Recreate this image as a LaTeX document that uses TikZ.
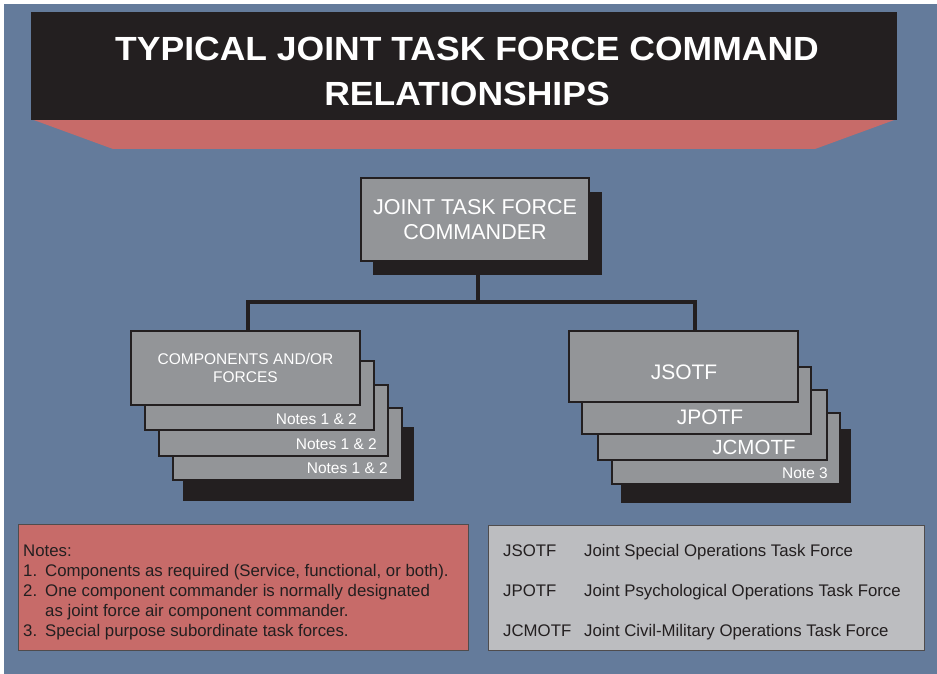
\documentclass[tikz,border=0pt]{standalone}
\usepackage{fontspec}
\setmainfont{Liberation Sans}
\newfontfamily\titlefont{Liberation Sans}[FakeStretch=1.06]

\definecolor{bgblue}{HTML}{647B9B}
\definecolor{jtfpink}{HTML}{C76B69}
\definecolor{boxgray}{HTML}{939598}
\definecolor{keygray}{HTML}{BCBDC0}
\definecolor{inkblack}{HTML}{231F20}

\tikzset{
  unitbox/.style={draw=inkblack, line width=2pt, fill=boxgray, text=white,
    inner sep=0pt, align=center},
  shadowbox/.style={fill=inkblack},
  link/.style={draw=inkblack, line width=4pt},
  stacktag/.style={text=white, inner sep=0pt, anchor=east},
  keytext/.style={text=inkblack, inner sep=0pt, anchor=base west,
    font=\fontsize{16.8}{20}\selectfont},
}

\begin{document}
\begin{tikzpicture}[x=1pt,y=-1pt]

\useasboundingbox (0,0) rectangle (937,674);
\fill[white] (0,0) rectangle (937,674);
\fill[bgblue] (4,4) rectangle (937,674);

% title banner
\fill[jtfpink] (31,119) -- (897,119) -- (815,149) -- (113,149) -- cycle;
\fill[inkblack] (31,12) rectangle (897,120);
\node[text=white, font=\titlefont\bfseries\fontsize{33.5}{45}\selectfont,
  align=center, inner sep=0pt] (title) at (467,71)
  {TYPICAL JOINT TASK FORCE COMMAND\\RELATIONSHIPS};

% commander
\fill[shadowbox] (373,192) rectangle (602,275);
\node[unitbox, minimum width=228, minimum height=83,
  font=\fontsize{21.5}{25}\selectfont] (jtfc) at (475,219.5)
  {JOINT TASK FORCE\\COMMANDER};

\coordinate (bus) at (478,302);
\coordinate (busl) at (248,302);
\coordinate (busr) at (695,302);
\draw[link] (478,275) -- (bus);
\draw[link] ([xshift=-2pt]busl) -- ([xshift=2pt]busr);

% components stack
\fill[shadowbox] (183,427) rectangle (414,501);
\node[unitbox, minimum width=229, minimum height=72] (compc) at (287.5,444) {};
\node[unitbox, minimum width=229, minimum height=71] (compb) at (273.5,420.5) {};
\node[unitbox, minimum width=229, minimum height=69] (compa) at (259.5,395.5) {};
\node[unitbox, minimum width=229, minimum height=74,
  font=\fontsize{15.5}{18.5}\selectfont] (comp) at (245.5,368)
  {COMPONENTS AND/OR\\FORCES};
\node[stacktag, font=\fontsize{15.5}{18}\selectfont] (companote) at (357,419) {Notes 1 \& 2};
\node[stacktag, font=\fontsize{15.5}{18}\selectfont] (compbnote) at (377,444) {Notes 1 \& 2};
\node[stacktag, font=\fontsize{15.5}{18}\selectfont] (compcnote) at (388,468) {Notes 1 \& 2};
\draw[link] (busl) -- (comp.north -| busl);

% task force stack
\fill[shadowbox] (621,429) rectangle (851,503);
\node[unitbox, minimum width=228, minimum height=71] (tfc) at (726,448.5) {};
\node[unitbox, minimum width=229, minimum height=70] (jcmotf) at (712.5,425) {};
\node[unitbox, minimum width=229, minimum height=67] (jpotf) at (696.5,400.5) {};
\node[unitbox, minimum width=229, minimum height=71,
  font=\fontsize{21}{25}\selectfont] (jsotf) at (683.5,366.5) {};
\node[text=white, inner sep=0pt, font=\fontsize{21}{25}\selectfont] (jsotftag) at (684,372) {JSOTF};
\node[text=white, inner sep=0pt, font=\fontsize{21}{25}\selectfont] (jpotftag) at (710,417) {JPOTF};
\node[text=white, inner sep=0pt, font=\fontsize{20.5}{25}\selectfont] (jcmotftag) at (754,447) {JCMOTF};
\node[stacktag, font=\fontsize{15.5}{18}\selectfont] (tfcnote) at (828,473) {Note 3};
\draw[link] (busr) -- (jsotf.north -| busr);

% notes
\node[draw=inkblack!80, line width=1pt, fill=jtfpink, minimum width=450,
  minimum height=126, inner sep=0pt] (notes) at (243,587) {};
\node[keytext] (noteshead) at (23,556) {Notes:};
\node[keytext] (noteone) at (23,576) {\makebox[22pt][l]{1.}Components as required (Service, functional, or both).};
\node[keytext] (notetwo) at (23,596) {\makebox[22pt][l]{2.}One component commander is normally designated};
\node[keytext] (notetwob) at (45,616) {as joint force air component commander.};
\node[keytext] (notethree) at (23,636) {\makebox[22pt][l]{3.}Special purpose subordinate task forces.};

% abbreviations
\node[draw=inkblack!80, line width=1pt, fill=keygray, minimum width=436,
  minimum height=125, inner sep=0pt] (legend) at (706,587.5) {};
\node[keytext] (keyjsotf) at (503,556) {JSOTF};
\node[keytext] (keyjsotfd) at (584,556) {Joint Special Operations Task Force};
\node[keytext] (keyjpotf) at (503,596) {JPOTF};
\node[keytext] (keyjpotfd) at (584,596) {Joint Psychological Operations Task Force};
\node[keytext] (keyjcmotf) at (503,636) {JCMOTF};
\node[keytext] (keyjcmotfd) at (584,636) {Joint Civil-Military Operations Task Force};

\end{tikzpicture}
\end{document}
